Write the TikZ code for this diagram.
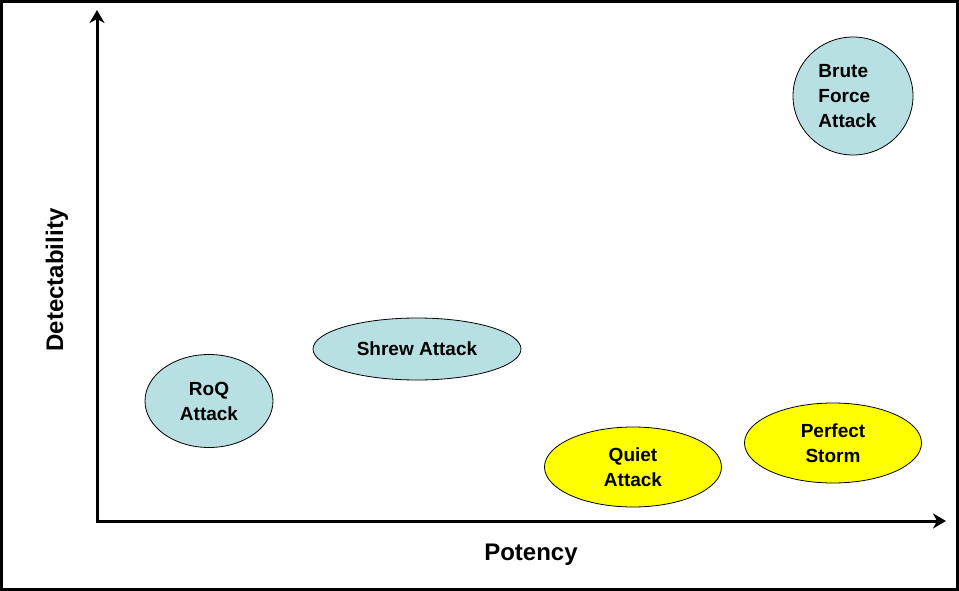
\documentclass[tikz,border=0pt]{standalone}
\usepackage{xcolor}
\usepackage{fontspec}
\setmainfont{Liberation Sans}
\usepackage{tikz}
\usetikzlibrary{arrows.meta}
\usetikzlibrary{shapes.geometric}
\definecolor{attackblue}{RGB}{184,223,226}
\definecolor{attackyellow}{RGB}{255,255,0}
\tikzstyle{attack}=[ellipse, draw, line width=0.8pt, inner sep=0pt, align=center,
    font=\bfseries\fontsize{19pt}{25pt}\selectfont]
\tikzstyle{axislabel}=[font=\bfseries\fontsize{24pt}{28pt}\selectfont]

\begin{document}
\begin{tikzpicture}[x=1pt, y=-1pt]

\tikzset{>={Stealth[length=13pt, width=15pt, inset=4pt]}}
\tikzset{every path/.style={line width=3pt}}

% frame
\useasboundingbox (0,0) rectangle (959,591);
\draw (1.5,1.5) rectangle (957.5,589.5);

% axes
\coordinate (origin) at (97,521);
\coordinate (ytop) at (97,10);
\coordinate (xend) at (946,521);
\draw[->] (origin) -- (ytop);
\draw[->] ([xshift=-1.5pt]origin) -- (xend);

\node[axislabel, rotate=90] (detect) at (57,280) {Detectability};
\node[axislabel] (potency) at (531,555) {Potency};

% attacks
\node[attack, fill=attackblue, minimum width=120pt, minimum height=118pt, align=left]
    (brute) at (853,96) {Brute\\Force\\Attack\hspace*{11pt}};
\node[attack, fill=attackblue, minimum width=208pt, minimum height=62pt]
    (shrew) at (417,349) {Shrew Attack};
\node[attack, fill=attackblue, minimum width=128pt, minimum height=93pt]
    (roq) at (209,401) {RoQ\\Attack};
\node[attack, fill=attackyellow, minimum width=177pt, minimum height=80pt]
    (quiet) at (633,467) {Quiet\\Attack};
\node[attack, fill=attackyellow, minimum width=177pt, minimum height=80pt]
    (storm) at (833,443) {Perfect\\Storm};

\end{tikzpicture}
\end{document}
